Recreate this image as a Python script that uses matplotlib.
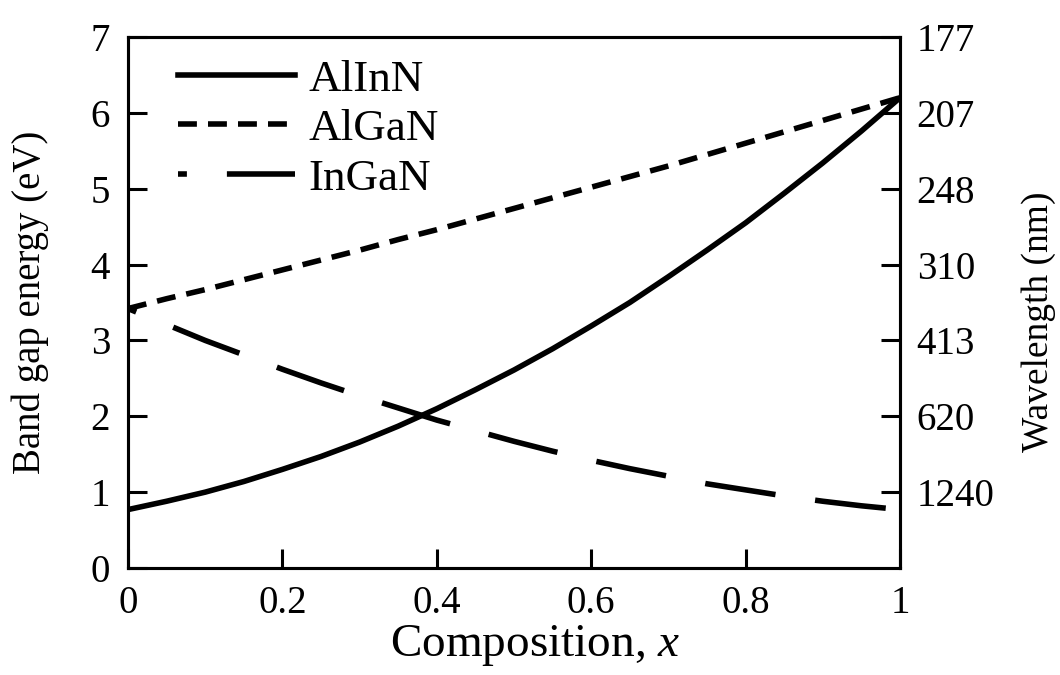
import numpy as np
import matplotlib
matplotlib.use('Agg')
import matplotlib.pyplot as plt

plt.rcParams['font.family'] = ['Liberation Serif', 'DejaVu Serif']
plt.rcParams['mathtext.fontset'] = 'custom'
plt.rcParams['mathtext.rm'] = 'Liberation Serif'
plt.rcParams['mathtext.it'] = 'Liberation Serif:italic'

# composition values and band gaps
comp = [0.0, 0.05, 0.1, 0.15, 0.2, 0.25, 0.3, 0.35, 0.4, 0.45, 0.5,
        0.55, 0.6, 0.65, 0.7, 0.75, 0.8, 0.85, 0.9, 0.95, 1.0]
alinn = [0.77, 0.88, 1.00, 1.14, 1.30, 1.47, 1.66, 1.87, 2.10, 2.35, 2.61,
         2.89, 3.19, 3.50, 3.84, 4.19, 4.55, 4.94, 5.34, 5.76, 6.20]
algan = [3.42, 3.55, 3.67, 3.80, 3.93, 4.06, 4.19, 4.33, 4.46, 4.60, 4.74,
         4.88, 5.02, 5.16, 5.30, 5.45, 5.60, 5.75, 5.90, 6.05, 6.20]
ingan = [3.42, 3.21, 3.00, 2.81, 2.62, 2.44, 2.27, 2.11, 1.95, 1.81, 1.67,
         1.54, 1.42, 1.31, 1.21, 1.11, 1.03, 0.95, 0.88, 0.82, 0.77]

xticks = [0, 0.2, 0.4, 0.6, 0.8, 1]
xticklabels = ['0', '0.2', '0.4', '0.6', '0.8', '1']
yticks = [0, 1, 2, 3, 4, 5, 6, 7]
wl_ticks = [1, 2, 3, 4, 5, 6, 7]
wl_labels = ['1240', '620', '413', '310', '248', '207', '177']

fig = plt.figure(figsize=(10.6, 6.75), dpi=100)
ax = fig.add_axes([128/1060, 1 - 568/675, 772/1060, 531/675])

lw = 4.0
ax.plot(comp, alinn, color='black', lw=lw, linestyle='-', label='AlInN')
ax.plot(comp, algan, color='black', lw=lw, linestyle=(0, (3.4, 2.0)), label='AlGaN')
ax.plot(comp, ingan, color='black', lw=lw, linestyle=(11.2, (12.8, 7.2)), label='InGaN')

ax.set_xlim(0, 1)
ax.set_ylim(0, 7)
ax.set_xticks(xticks)
ax.set_xticklabels(xticklabels)
ax.set_yticks(yticks)

for s in ax.spines.values():
    s.set_linewidth(2.2)
ax.tick_params(direction='in', length=14, width=2.2, labelsize=28, pad=12)
ax.tick_params(axis='y', pad=13)

ax.set_xlabel('Composition, $x$', fontsize=34)
ax.xaxis.set_label_coords(0.527, -0.103)
ax.set_ylabel('Band gap energy (eV)', fontsize=28)
ax.yaxis.set_label_coords(-0.102, 0.5)

ax2 = ax.twinx()
ax2.set_ylim(0, 7)
ax2.set_yticks(wl_ticks)
ax2.set_yticklabels(wl_labels)
ax2.tick_params(direction='in', length=14, width=2.2, labelsize=28, pad=12)
for s in ax2.spines.values():
    s.set_linewidth(2.2)
ax2.set_ylabel('Wavelength (nm)', fontsize=27)
ax2.yaxis.set_label_coords(1.157, 0.463)

ax.legend(loc='upper left', bbox_to_anchor=(50/772, 1 - 22/531), frameon=False,
          fontsize=32.5, handlelength=2.6, handletextpad=0.29, labelspacing=0.2,
          borderpad=0, borderaxespad=0)

fig.savefig('out.png', dpi=100)
